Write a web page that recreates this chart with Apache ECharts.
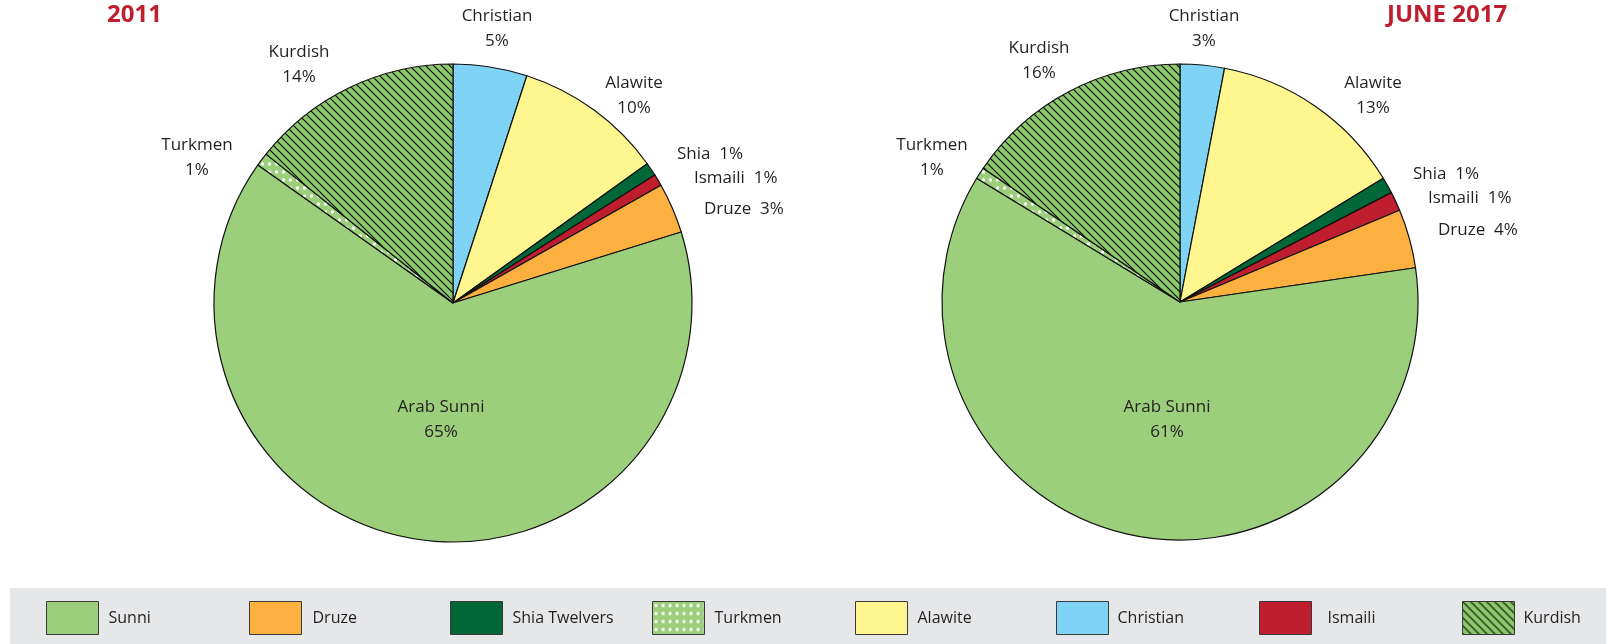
<!DOCTYPE html>
<html>
<head>
<meta charset="utf-8">
<script src="https://cdn.jsdelivr.net/npm/echarts@6/dist/echarts.min.js"></script>
<style>
html,body{margin:0;padding:0;background:#fff;}
#chart{width:1606px;height:644px;}
</style>
</head>
<body>
<div id="chart"></div>
<script>
// ---- data ----
const categories = ['Christian', 'Alawite', 'Shia Twelvers', 'Ismaili', 'Druze', 'Sunni', 'Turkmen', 'Kurdish'];
const labelNames = ['Christian', 'Alawite', 'Shia', 'Ismaili', 'Druze', 'Arab Sunni', 'Turkmen', 'Kurdish'];
const values2011 = [5, 10.1, 0.9, 0.8, 3.4, 64.6, 0.9, 14.3];
const values2017 = [3, 13.3, 1.1, 1.3, 4, 61, 0.8, 15.5];
const titles = ['2011', 'JUNE 2017'];
const legendOrder = ['Sunni', 'Druze', 'Shia Twelvers', 'Turkmen', 'Alawite', 'Christian', 'Ismaili', 'Kurdish'];

// ---- styling ----
const FONT = '"Open Sans", "Noto Sans", sans-serif';
const TXT = '#231f20';
function hatch() {
  const s = 8;
  const c = document.createElement('canvas'); c.width = s; c.height = s;
  const g = c.getContext('2d');
  g.fillStyle = '#8bc96a'; g.fillRect(0, 0, s, s);
  g.strokeStyle = '#000'; g.lineWidth = 1.1;
  g.beginPath();
  g.moveTo(-1, -1); g.lineTo(s + 1, s + 1);
  g.moveTo(-s - 1, -1); g.lineTo(1, s + 1);
  g.moveTo(s - 1, -1); g.lineTo(2 * s + 1, s + 1);
  g.stroke();
  return c;
}
function dots() {
  const c = document.createElement('canvas'); c.width = 7; c.height = 8;
  const g = c.getContext('2d');
  g.fillStyle = '#9bcf7b'; g.fillRect(0, 0, 7, 8);
  g.fillStyle = '#ffffff';
  g.beginPath(); g.arc(3.5, 4, 1.7, 0, Math.PI * 2); g.fill();
  return c;
}
const colors = {
  'Christian': '#7fd3f4',
  'Alawite': '#fff68f',
  'Shia Twelvers': '#006838',
  'Ismaili': '#be1e2d',
  'Druze': '#fbb040',
  'Sunni': '#9bcf7b',
  'Turkmen': { image: dots(), repeat: 'repeat' },
  'Kurdish': { image: hatch(), repeat: 'repeat' }
};
// label anchors [x, y, align] for each pie
const labelPos = [
  [[497, 29, 'center'], [634, 96, 'center'], [677, 154, 'left'], [694, 178, 'left'], [704, 209, 'left'], [441, 420, 'center'], [197, 158, 'center'], [299, 65, 'center']],
  [[1204, 29, 'center'], [1373, 96, 'center'], [1413, 174, 'left'], [1428, 198, 'left'], [1438, 230, 'left'], [1167, 420, 'center'], [932, 158, 'center'], [1039, 61, 'center']]
];
const pies = [
  { center: [453, 303], radius: 239, values: values2011 },
  { center: [1180, 302], radius: 238, values: values2017 }
];
const legendLeft = [46, 249, 450, 652, 855, 1056, 1259, 1462];
const legendTextGap = [10, 11, 10, 10, 10, 9, 16, 9];

const chart = echarts.init(document.getElementById('chart'), null, { renderer: 'canvas' });

const series = pies.map((p, si) => ({
  type: 'pie',
  center: p.center,
  radius: p.radius,
  startAngle: 90,
  clockwise: true,
  avoidLabelOverlap: false,
  animation: false,
  silent: true,
  itemStyle: { borderColor: '#111', borderWidth: 1.2 },
  label: {
    show: true,
    position: 'outside',
    color: TXT,
    fontFamily: FONT,
    fontSize: 17,
    lineHeight: 25,
    formatter: (pr) => {
      const i = pr.dataIndex;
      const pct = Math.round(pr.value) + '%';
      return (i >= 2 && i <= 4) ? labelNames[i] + '  ' + pct : labelNames[i] + '\n' + pct;
    }
  },
  labelLine: { show: false },
  labelLayout: (pr) => {
    const lp = labelPos[si][pr.dataIndex];
    return { x: lp[0], y: lp[1], align: lp[2], verticalAlign: 'middle' };
  },
  data: categories.map((c, i) => ({ name: c, value: p.values[i], itemStyle: { color: colors[c] } }))
}));

const legends = legendOrder.map((name, k) => ({
  data: [name],
  left: legendLeft[k],
  top: 601,
  padding: 0,
  orient: 'horizontal',
  itemWidth: 52,
  itemHeight: 33,
  icon: 'rect',
  selectedMode: false,
  itemStyle: { borderColor: '#3a3a3a', borderWidth: 1 },
  textStyle: { fontFamily: FONT, fontSize: 16, color: TXT, padding: [0, 0, 0, legendTextGap[k] - 5] }
}));

chart.setOption({
  animation: false,
  backgroundColor: '#ffffff',
  title: [
    { text: titles[0], left: 107, top: 3, padding: 0, textStyle: { fontFamily: FONT, fontWeight: 'bold', fontSize: 24, color: '#be1e2d' } },
    { text: titles[1], left: 1387, top: 3, padding: 0, textStyle: { fontFamily: FONT, fontWeight: 'bold', fontSize: 24, color: '#be1e2d' } }
  ],
  graphic: [
    { type: 'rect', z: -10, silent: true, shape: { x: 10, y: 588, width: 1596, height: 56 }, style: { fill: '#e6e7e8' } }
  ],
  legend: legends,
  series: series
});
</script>
</body>
</html>
